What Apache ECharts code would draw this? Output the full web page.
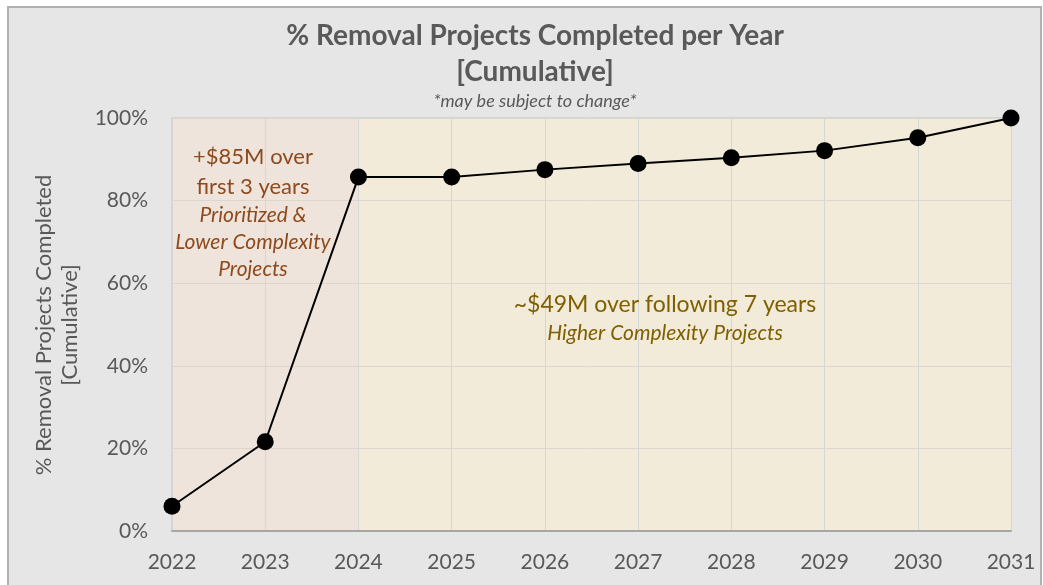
<!DOCTYPE html>
<html>
<head>
<meta charset="utf-8">
<script src="https://cdn.jsdelivr.net/npm/echarts@6/dist/echarts.min.js"></script>
<style>
  html, body { margin: 0; padding: 0; background: #fff; }
  #echarts { width: 1043px; height: 585px; }
</style>
</head>
<body>
<div id="echarts"></div>
<script>
const years = [2022, 2023, 2024, 2025, 2026, 2027, 2028, 2029, 2030, 2031];
const pctDone = [6.0, 21.6, 85.7, 85.7, 87.5, 89.0, 90.4, 92.1, 95.2, 100];
const yTicks = [0, 20, 40, 60, 80, 100];
// shaded phases
const phase1 = [2022, 2024];
const phase2 = [2024, 2031];

const FONT = 'Lato, "Open Sans", sans-serif';
const GREY = '#595959';
const BROWN = '#8e4a1c';
const OLIVE = '#7f6000';

let myChart = echarts.init(document.getElementById('echarts'));

let option = {
  backgroundColor: '#fff',
  animation: false,
  textStyle: { fontFamily: FONT },
  graphic: [
    {
      type: 'rect',
      z: -10,
      silent: true,
      shape: { x: 8, y: 7, width: 1033, height: 590 },
      style: { fill: '#e6e6e6', stroke: '#b0b0b0', lineWidth: 2 },
    },
    {
      type: 'text', x: 535, y: 36, z: 20,
      style: { text: '% Removal Projects Completed per Year', fill: GREY, font: 'bold 28px ' + FONT, align: 'center', verticalAlign: 'middle' },
    },
    {
      type: 'text', x: 535, y: 72, z: 20,
      style: { text: '[Cumulative]', fill: GREY, font: 'bold 28px ' + FONT, align: 'center', verticalAlign: 'middle' },
    },
    {
      type: 'text', x: 535, y: 101, z: 20,
      style: { text: '*may be subject to change*', fill: GREY, font: 'italic 18px ' + FONT, align: 'center', verticalAlign: 'middle' },
    },
    {
      type: 'text', x: 57, y: 325, rotation: Math.PI / 2, z: 20,
      style: { text: '% Removal Projects Completed\n[Cumulative]', fill: GREY, font: '22px ' + FONT, lineHeight: 26, align: 'center', verticalAlign: 'middle' },
    },
    // left phase note
    {
      type: 'text', x: 253, y: 172, z: 20,
      style: { text: '+$85M over\nfirst 3 years', fill: BROWN, font: '22px ' + FONT, lineHeight: 30, align: 'center', verticalAlign: 'middle' },
    },
    {
      type: 'text', x: 253, y: 242, z: 20,
      style: { text: 'Prioritized &\nLower Complexity\nProjects', fill: BROWN, font: 'italic 21px ' + FONT, lineHeight: 27, align: 'center', verticalAlign: 'middle' },
    },
    // right phase note
    {
      type: 'text', x: 665, y: 305, z: 20,
      style: { text: '~$49M over following 7 years', fill: OLIVE, font: '23px ' + FONT, align: 'center', verticalAlign: 'middle' },
    },
    {
      type: 'text', x: 665, y: 333, z: 20,
      style: { text: 'Higher Complexity Projects', fill: OLIVE, font: 'italic 21px ' + FONT, align: 'center', verticalAlign: 'middle' },
    },
  ],
  grid: {
    left: 172,
    top: 118,
    right: 32,
    bottom: 54,
    show: true,
    borderColor: '#c4c4c4',
    borderWidth: 1,
  },
  xAxis: {
    type: 'value',
    z: 4,
    min: years[0],
    max: years[years.length - 1],
    interval: 1,
    axisLine: { show: true, lineStyle: { color: '#a6a6a6', width: 2 } },
    axisTick: { show: false },
    splitLine: { show: true, lineStyle: { color: '#d6d6d6', width: 1 } },
    axisLabel: {
      formatter: v => String(v),
      fontSize: 21,
      color: GREY,
      margin: 21,
      fontFamily: FONT,
    },
  },
  yAxis: {
    type: 'value',
    z: 4,
    min: yTicks[0],
    max: yTicks[yTicks.length - 1],
    interval: 20,
    axisLine: { show: false },
    axisTick: { show: false },
    splitLine: { show: true, lineStyle: { color: '#dcd6cf', width: 1 } },
    axisLabel: {
      formatter: '{value}%',
      fontSize: 21,
      color: GREY,
      margin: 24,
      fontFamily: FONT,
    },
  },
  series: [
    {
      // only carries the shaded phases, kept under the grid lines
      name: 'phases',
      type: 'line',
      z: 0,
      silent: true,
      data: years.map((y, i) => [y, pctDone[i]]),
      showSymbol: false,
      lineStyle: { opacity: 0 },
      markArea: {
        z: 0,
        silent: true,
        data: [
          [{ xAxis: phase1[0], itemStyle: { color: '#efe4dc' } }, { xAxis: phase1[1] }],
          [{ xAxis: phase2[0], itemStyle: { color: '#f2ebd9' } }, { xAxis: phase2[1] }],
        ],
      },
    },
    {
      name: '% complete',
      type: 'line',
      z: 10,
      data: years.map((y, i) => [y, pctDone[i]]),
      symbol: 'circle',
      symbolSize: 17,
      itemStyle: { color: '#000' },
      lineStyle: { color: '#000', width: 2 },
    },
  ],
};
myChart.setOption(option);
</script>
</body>
</html>
